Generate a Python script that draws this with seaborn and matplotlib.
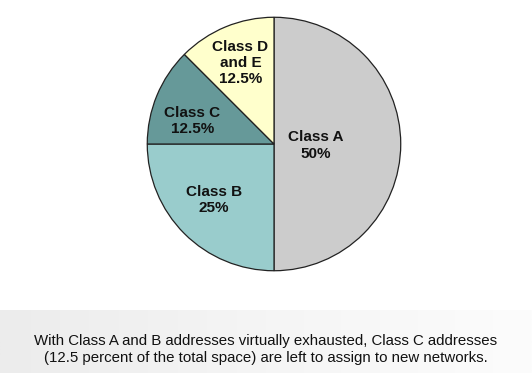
import matplotlib
matplotlib.use("Agg")
import matplotlib.pyplot as plt
import numpy as np
import seaborn as sns

# ── data ──────────────────────────────────────────────────────────────────────
CLASSES = ["Class A", "Class B", "Class C", "Class D\nand E"]
SHARES  = [50, 25, 12.5, 12.5]
COLORS  = ["#cccccc", "#99cccc", "#669999", "#ffffcc"]
CAPTION = ("With Class A and B addresses virtually exhausted, Class C addresses\n"
           "(12.5 percent of the total space) are left to assign to new networks.")

# label placement per wedge: distance (fraction of radius), angle nudge (deg)
LABEL_R     = [0.33, 0.65, 0.67, 0.69]
LABEL_NUDGE = [-2, -2, 7, 0]

sns.set_theme(style="white")
plt.rcParams["font.family"] = ["Liberation Sans", "DejaVu Sans"]

fig = plt.figure(figsize=(5.32, 3.73), dpi=100)
fig.patch.set_facecolor("white")

# ── caption band with soft gradient ──────────────────────────────────────────
band = fig.add_axes([0, 0, 1, 63 / 373])
grad = np.linspace(0, 1, 256).reshape(1, -1)
band.imshow(grad, aspect="auto", cmap=matplotlib.colors.LinearSegmentedColormap.from_list(
    "band", ["#ececec", "#f5f5f5", "#fcfcfc"]), extent=[0, 1, 0, 1])
band.set_axis_off()
band.text(0.5, 0.37, CAPTION, ha="center", va="center", fontsize=10.8,
          color="#111111", linespacing=1.25, transform=band.transAxes)

# ── pie ───────────────────────────────────────────────────────────────────────
# pie centre ~ (274, 144) px, radius ~127 px
cx, cy, r = 274 / 532, 1 - 144 / 373, 128
ax = fig.add_axes([cx - r / 532, cy - r / 373, 2 * r / 532, 2 * r / 373])
wedges, _ = ax.pie(
    SHARES,
    colors=COLORS,
    startangle=90,
    counterclock=False,
    radius=1,
    wedgeprops=dict(edgecolor="#222222", linewidth=0.9),
)
ax.set_xlim(-1.01, 1.01)
ax.set_ylim(-1.01, 1.01)
ax.set_aspect("equal")
ax.set_axis_off()

for w, name, share, lr, nudge in zip(wedges, CLASSES, SHARES, LABEL_R, LABEL_NUDGE):
    mid = np.deg2rad((w.theta1 + w.theta2) / 2 + nudge)
    pct = f"{share:g}%"
    ax.text(lr * np.cos(mid), lr * np.sin(mid), f"{name}\n{pct}",
            ha="center", va="center", fontsize=11, fontweight="bold",
            color="#111111", linespacing=1.2)

fig.savefig("out.png", dpi=100)
